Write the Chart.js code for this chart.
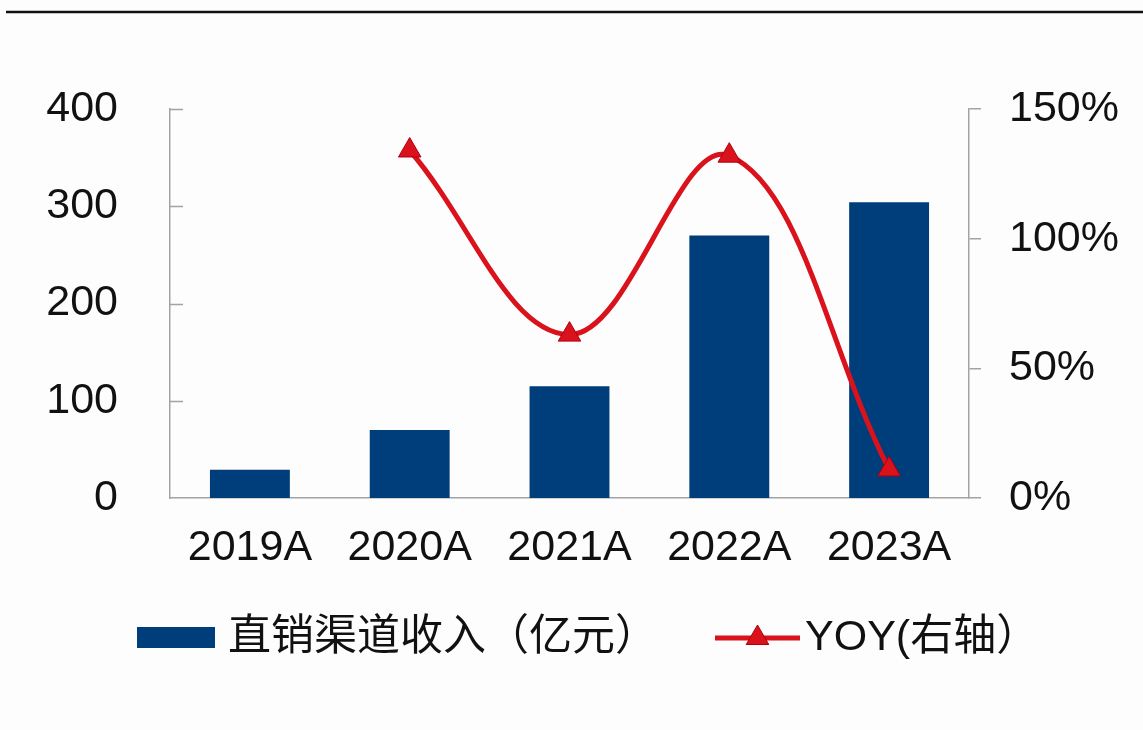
<!DOCTYPE html>
<html>
<head>
<meta charset="utf-8">
<script src="https://cdn.jsdelivr.net/npm/chart.js@4.4.0/dist/chart.umd.min.js"></script>
<style>
html, body { margin: 0; padding: 0; background: #fdfdfd; }
#wrap { width: 1143px; height: 730px; }
</style>
</head>
<body>
<div id="wrap"><canvas id="chart" width="1143" height="730"></canvas></div>
<script>
// data
var years = ["2019A", "2020A", "2021A", "2022A", "2023A"];
var revenue = [29, 70, 115, 270, 304];          // 直销渠道收入（亿元）
var yoy = [null, 1.34, 0.63, 1.32, 0.11];       // YOY (右轴)
var leftTicks = [0, 100, 200, 300, 400];
var rightTicks = [0, 0.5, 1.0, 1.5];

var barLabel = "直销渠道收入（亿元）";
var lineLabel = "YOY(右轴）";

var BLUE = "#003d7b";
var RED = "#d9121c";
var AXIS = "#a3a3a3";
var FONT = '"Liberation Sans", Arial, "Noto Sans CJK SC", sans-serif';

// top rule, inward ticks on the left axis, and the legend
var decor = {
    id: "decor",
    beforeDraw: function (chart) {
        var ctx = chart.ctx;
        ctx.save();
        ctx.strokeStyle = "#111";
        ctx.lineWidth = 2.5;
        ctx.beginPath();
        ctx.moveTo(6, 12);
        ctx.lineTo(1143, 12);
        ctx.stroke();
        ctx.restore();
    },
    afterDraw: function (chart) {
        var ctx = chart.ctx;
        var yl = chart.scales.yLeft;
        var area = chart.chartArea;
        ctx.save();
        ctx.strokeStyle = AXIS;
        ctx.lineWidth = 1.5;
        leftTicks.forEach(function (v) {
            if (v === 0) return;
            var y = Math.round(yl.getPixelForValue(v)) + 0.5;
            ctx.beginPath();
            ctx.moveTo(area.left, y);
            ctx.lineTo(area.left + 13, y);
            ctx.stroke();
        });

        // legend
        var ly = 638;
        ctx.fillStyle = BLUE;
        ctx.fillRect(137, 627, 78, 21);
        ctx.font = "43px " + FONT;
        ctx.textBaseline = "middle";
        ctx.fillStyle = "#111";
        ctx.fillText(barLabel, 228, ly);

        ctx.strokeStyle = RED;
        ctx.lineWidth = 5;
        ctx.beginPath();
        ctx.moveTo(715, ly);
        ctx.lineTo(800, ly);
        ctx.stroke();
        ctx.fillStyle = RED;
        ctx.strokeStyle = "#b00010";
        ctx.lineWidth = 1;
        ctx.beginPath();
        ctx.moveTo(757.5, ly - 13);
        ctx.lineTo(757.5 + 11.3, ly + 6.5);
        ctx.lineTo(757.5 - 11.3, ly + 6.5);
        ctx.closePath();
        ctx.fill();
        ctx.stroke();

        ctx.fillStyle = "#111";
        ctx.fillText(lineLabel, 805, ly);
        ctx.restore();
    }
};

var ctx = document.getElementById("chart").getContext("2d");
var chart = new Chart(ctx, {
    type: "bar",
    data: {
        labels: years,
        datasets: [{
            type: "line",
            label: lineLabel,
            data: yoy,
            yAxisID: "yRight",
            borderColor: RED,
            borderWidth: 5,
            tension: 0.38,
            pointStyle: "triangle",
            pointRadius: 13,
            pointBackgroundColor: RED,
            pointBorderColor: "#b00010",
            pointBorderWidth: 1,
            clip: false,
            order: 0
        }, {
            type: "bar",
            label: barLabel,
            data: revenue,
            yAxisID: "yLeft",
            backgroundColor: BLUE,
            barPercentage: 0.5,
            categoryPercentage: 1.0,
            order: 1
        }]
    },
    options: {
        responsive: false,
        animation: false,
        devicePixelRatio: 1,
        layout: { padding: { top: 109, left: 0, right: 0, bottom: 0 } },
        plugins: {
            legend: { display: false },
            tooltip: { enabled: false }
        },
        scales: {
            x: {
                grid: { display: false, drawTicks: false },
                border: { display: true, color: AXIS, width: 1.5 },
                ticks: {
                    color: "#111",
                    font: { family: FONT, size: 43 },
                    padding: 24,
                    maxRotation: 0
                },
                afterFit: function (s) { s.height = 232; }
            },
            yLeft: {
                position: "left",
                min: 0,
                max: 400,
                grid: { display: false, drawTicks: false },
                border: { display: true, color: AXIS, width: 1.5 },
                ticks: {
                    stepSize: 100,
                    color: "#111",
                    font: { family: FONT, size: 43 },
                    padding: 52
                },
                afterBuildTicks: function (s) {
                    s.ticks = leftTicks.map(function (v) { return {value: v}; });
                },
                afterFit: function (s) { s.width = 170; }
            },
            yRight: {
                position: "right",
                min: 0,
                max: 1.5,
                grid: {
                    display: true,
                    drawOnChartArea: false,
                    drawTicks: true,
                    tickLength: 12,
                    color: AXIS,
                    lineWidth: 1.5
                },
                border: { display: true, color: AXIS, width: 1.5 },
                ticks: {
                    stepSize: 0.5,
                    color: "#111",
                    font: { family: FONT, size: 43 },
                    padding: 28,
                    callback: function (v) { return Math.round(v * 100) + "%"; }
                },
                afterBuildTicks: function (s) {
                    s.ticks = rightTicks.map(function (v) { return {value: v}; });
                },
                afterFit: function (s) { s.width = 174; }
            }
        }
    },
    plugins: [decor]
});
</script>
</body>
</html>
